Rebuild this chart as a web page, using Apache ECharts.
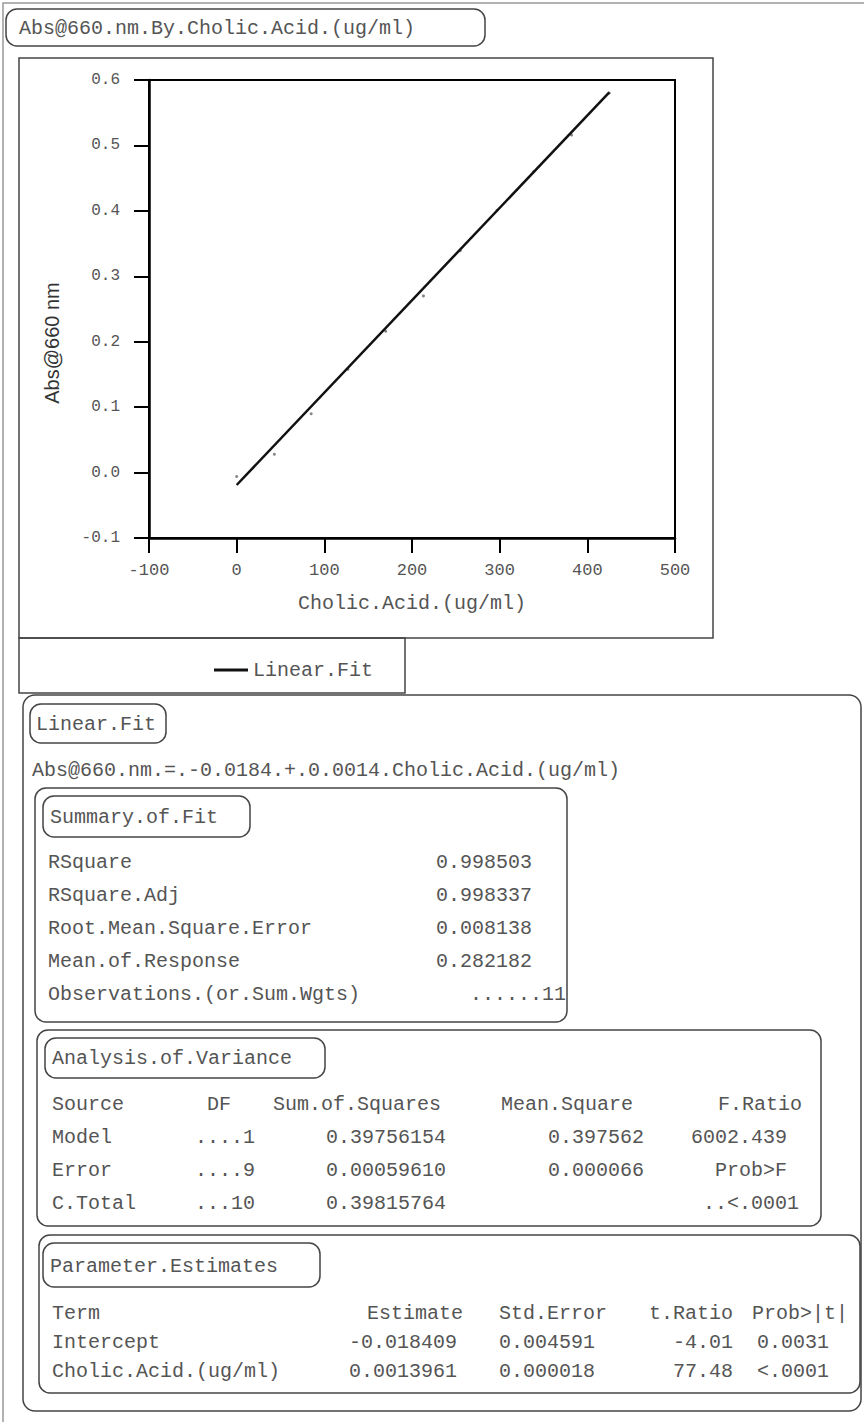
<!DOCTYPE html>
<html>
<head>
<meta charset="utf-8">
<title>Abs@660 nm By Cholic Acid (ug/ml)</title>
<script src="https://cdn.jsdelivr.net/npm/echarts@6/dist/echarts.min.js"></script>
<style>
  html, body { margin: 0; padding: 0; background: #fff; }
  #container { width: 864px; height: 1422px; }
</style>
</head>
<body>
<div id="container"></div>
<script>
// points
var concentration = [0, 43, 85, 127, 170, 213, 255, 297, 339, 382, 425];
var absorbance = [-0.006, 0.028, 0.090, 0.158, 0.216, 0.270, 0.339, 0.401, 0.460, 0.516, 0.580];
// ends of the drawn fit line
var fitX = [0, 425];
var fitY = [-0.019, 0.581];

var titleText = 'Abs@660.nm.By.Cholic.Acid.(ug/ml)';
var equationText = 'Abs@660.nm.=.-0.0184.+.0.0014.Cholic.Acid.(ug/ml)';

var summaryLabels = ['RSquare', 'RSquare.Adj', 'Root.Mean.Square.Error', 'Mean.of.Response', 'Observations.(or.Sum.Wgts)'];
var summaryValues = ['0.998503', '0.998337', '0.008138', '0.282182', '......11'];

var anovaHeader = ['Source', 'DF', 'Sum.of.Squares', 'Mean.Square', 'F.Ratio'];
var anovaSource = ['Model', 'Error', 'C.Total'];
var anovaDF = ['....1', '....9', '...10'];
var anovaSS = ['0.39756154', '0.00059610', '0.39815764'];
var anovaMS = ['0.397562', '0.000066', ''];
var anovaF = ['6002.439', 'Prob>F', '..<.0001'];

var paramHeader = ['Term', 'Estimate', 'Std.Error', 't.Ratio', 'Prob>|t|'];
var paramTerm = ['Intercept', 'Cholic.Acid.(ug/ml)'];
var paramEst = ['-0.018409', '0.0013961'];
var paramSE = ['0.004591', '0.000018'];
var paramT = ['-4.01', '77.48'];
var paramP = ['0.0031', '<.0001'];

var MONO = '"Liberation Mono", "DejaVu Sans Mono", monospace';
var INK = '#555';
var LINE = '#444';

function txt(x, y, s, align) {
  return {
    type: 'text', x: x, y: y,
    style: { text: s, fontFamily: MONO, fontSize: 20, fill: INK,
             textAlign: align || 'left', textVerticalAlign: 'middle' }
  };
}
function box(x, y, w, h, r) {
  return {
    type: 'rect', shape: { x: x, y: y, width: w, height: h, r: r || 0 },
    style: { fill: 'none', stroke: LINE, lineWidth: 1.5 }, z: -1
  };
}

var g = [];
// page edges
g.push({ type: 'polyline', shape: { points: [[3, 1422], [3, 3], [864, 3]] }, style: { stroke: '#999', lineWidth: 1.5, fill: 'none' } });
g.push(box(6, 9, 479, 37, 11));
g.push(txt(19, 28, titleText));
g.push(box(19, 58, 694, 580));
g.push(box(19, 638, 386, 55));

// Linear fit report
g.push(box(23, 695, 838, 716, 12));
g.push(box(30, 704, 136, 39, 11));
g.push(txt(36, 724, 'Linear.Fit'));
g.push(txt(32, 770, equationText));

g.push(box(35, 788, 532, 234, 11));
g.push(box(43, 796, 207, 41, 11));
g.push(txt(50, 817, 'Summary.of.Fit'));
var sumY = [862, 895, 928, 961, 994];
summaryLabels.forEach(function (s, i) {
  g.push(txt(48, sumY[i], s));
  g.push(txt(i === 4 ? 566 : 532, sumY[i], summaryValues[i], 'right'));
});

g.push(box(37, 1030, 784, 196, 11));
g.push(box(45, 1038, 280, 40, 11));
g.push(txt(52, 1058, 'Analysis.of.Variance'));
g.push(txt(52, 1104, anovaHeader[0]));
g.push(txt(231, 1104, anovaHeader[1], 'right'));
g.push(txt(273, 1104, anovaHeader[2]));
g.push(txt(501, 1104, anovaHeader[3]));
g.push(txt(802, 1104, anovaHeader[4], 'right'));
var anovaY = [1137, 1170, 1203];
anovaSource.forEach(function (s, i) {
  g.push(txt(52, anovaY[i], s));
  g.push(txt(255, anovaY[i], anovaDF[i], 'right'));
  g.push(txt(446, anovaY[i], anovaSS[i], 'right'));
  g.push(txt(644, anovaY[i], anovaMS[i], 'right'));
  g.push(txt(i === 2 ? 799 : 787, anovaY[i], anovaF[i], 'right'));
});

g.push(box(39, 1235, 821, 158, 11));
g.push(box(43, 1243, 277, 44, 11));
g.push(txt(50, 1266, 'Parameter.Estimates'));
g.push(txt(52, 1313, paramHeader[0]));
g.push(txt(463, 1313, paramHeader[1], 'right'));
g.push(txt(499, 1313, paramHeader[2]));
g.push(txt(733, 1313, paramHeader[3], 'right'));
g.push(txt(848, 1313, paramHeader[4], 'right'));
var paramY = [1342, 1371];
paramTerm.forEach(function (s, i) {
  g.push(txt(52, paramY[i], s));
  g.push(txt(457, paramY[i], paramEst[i], 'right'));
  g.push(txt(499, paramY[i], paramSE[i]));
  g.push(txt(733, paramY[i], paramT[i], 'right'));
  g.push(txt(829, paramY[i], paramP[i], 'right'));
});

var chart = echarts.init(document.getElementById('container'), null, { renderer: 'svg' });
chart.setOption({
  animation: false,
  backgroundColor: '#fff',
  grid: { left: 149, top: 80, width: 526, height: 458, show: true, borderColor: '#000', borderWidth: 2 },
  legend: {
    data: ['Linear.Fit'], left: 209, top: 655,
    icon: 'rect', itemWidth: 34, itemHeight: 3,
    textStyle: { fontFamily: MONO, fontSize: 20, color: INK }
  },
  xAxis: {
    type: 'value', min: -100, max: 500, interval: 100,
    name: 'Cholic.Acid.(ug/ml)', nameLocation: 'middle', nameGap: 55,
    nameTextStyle: { fontFamily: MONO, fontSize: 20, color: INK },
    axisLine: { show: true, onZero: false, lineStyle: { color: '#000', width: 2.5 } },
    axisTick: { show: true, length: 15, lineStyle: { color: '#000', width: 2 } },
    axisLabel: { margin: 24, fontFamily: MONO, fontSize: 17, color: INK },
    splitLine: { show: false }
  },
  yAxis: {
    type: 'value', min: -0.1, max: 0.6, interval: 0.1,
    name: 'Abs@660 nm', nameLocation: 'middle', nameGap: 87,
    nameTextStyle: { fontFamily: '"Liberation Sans", Arial, sans-serif', fontSize: 20, color: '#333', padding: [0, 68, 0, 0] },
    axisLine: { show: true, onZero: false, lineStyle: { color: '#000', width: 2.5 } },
    axisTick: { show: true, length: 15, lineStyle: { color: '#000', width: 2 } },
    axisLabel: { margin: 29, fontFamily: MONO, fontSize: 16, color: INK,
                 formatter: function (v) { return v.toFixed(1); } },
    splitLine: { show: false }
  },
  series: [
    {
      name: 'Data', type: 'scatter', symbol: 'circle', symbolSize: 3,
      itemStyle: { color: '#666' },
      data: concentration.map(function (x, i) { return [x, absorbance[i]]; })
    },
    {
      name: 'Linear.Fit', type: 'line', symbol: 'none',
      lineStyle: { color: '#111', width: 2.5 },
      itemStyle: { color: '#111' },
      data: fitX.map(function (x, i) { return [x, fitY[i]]; })
    }
  ],
  graphic: g
});
</script>
</body>
</html>
